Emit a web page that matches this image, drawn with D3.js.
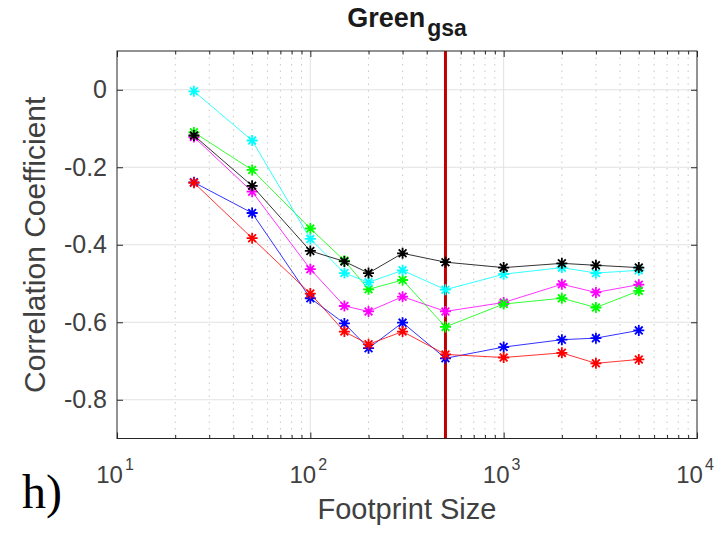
<!DOCTYPE html>
<html>
<head>
<meta charset="utf-8">
<script src="https://cdn.jsdelivr.net/npm/d3@7"></script>
<style>
body { margin: 0; background: #fff; }
svg { display: block; }
text { font-family: "Liberation Sans", Arial, Helvetica, sans-serif; fill: #404040; }
</style>
</head>
<body>
<script>
var width = 723, height = 533;

var footprint = [25, 50, 100, 150, 200, 300, 500, 1000, 2000, 3000, 5000];
var redVals     = [-0.240, -0.383, -0.526, -0.624, -0.657, -0.624, -0.683, -0.691, -0.679, -0.706, -0.696];
var blueVals    = [-0.239, -0.318, -0.538, -0.603, -0.667, -0.601, -0.693, -0.664, -0.645, -0.641, -0.621];
var magentaVals = [-0.122, -0.263, -0.463, -0.558, -0.572, -0.534, -0.572, -0.549, -0.502, -0.523, -0.503];
var greenVals   = [-0.110, -0.207, -0.358, -0.441, -0.515, -0.491, -0.612, -0.553, -0.538, -0.562, -0.519];
var cyanVals    = [-0.004, -0.131, -0.385, -0.473, -0.497, -0.466, -0.516, -0.476, -0.459, -0.473, -0.466];
var blackVals   = [-0.118, -0.248, -0.416, -0.443, -0.473, -0.422, -0.445, -0.459, -0.448, -0.453, -0.459];
var seriesColors = ["#0000ff", "#ff0000", "#ff00ff", "#00ff00", "#00ffff", "#000000"];

var xMajor = [10, 100, 1000, 10000];
var xExp = ["1", "2", "3", "4"];
var yTicks = [0, -0.2, -0.4, -0.6, -0.8];
var yTickLabels = ["0", "-0.2", "-0.4", "-0.6", "-0.8"];
var marker = 500;

var series = [blueVals, redVals, magentaVals, greenVals, cyanVals, blackVals];

var plotL = 117, plotR = 697, plotT = 51, plotB = 438.5;
var x = d3.scaleLog().domain([10, 10000]).range([plotL, plotR]);
var y = d3.scaleLinear().domain([-0.9, 0.1]).range([plotB, plotT]);

var xMinor = [];
[10, 100, 1000].forEach(function(d){ for (var k = 2; k <= 9; k++) xMinor.push(d*k); });

var svg = d3.select("body").append("svg").attr("width", width).attr("height", height);

// grid
var grid = svg.append("g");
grid.selectAll("line.minor").data(xMinor).enter().append("line")
    .attr("x1", function(d){ return x(d); }).attr("x2", function(d){ return x(d); })
    .attr("y1", plotT).attr("y2", plotB)
    .attr("stroke", "#c8c8c8").attr("stroke-width", 1).attr("stroke-dasharray", "1.5,5");
grid.selectAll("line.vmaj").data([100, 1000]).enter().append("line")
    .attr("x1", function(d){ return x(d); }).attr("x2", function(d){ return x(d); })
    .attr("y1", plotT).attr("y2", plotB)
    .attr("stroke", "#e2e2e2").attr("stroke-width", 1);
grid.selectAll("line.hmaj").data(yTicks).enter().append("line")
    .attr("x1", plotL).attr("x2", plotR)
    .attr("y1", function(d){ return y(d); }).attr("y2", function(d){ return y(d); })
    .attr("stroke", "#e2e2e2").attr("stroke-width", 1);

// axes with inward ticks
function styleAxis(g) {
    g.select(".domain").remove();
    g.selectAll(".tick line").attr("stroke", "#262626");
    g.selectAll(".tick text").remove();
}
svg.append("g").attr("transform", "translate(0," + plotB + ")")
    .call(d3.axisBottom(x).tickValues(xMajor).tickSize(-6).tickFormat("")).call(styleAxis);
svg.append("g").attr("transform", "translate(0," + plotB + ")")
    .call(d3.axisBottom(x).tickValues(xMinor).tickSize(-3.5).tickFormat("")).call(styleAxis);
svg.append("g").attr("transform", "translate(0," + plotT + ")")
    .call(d3.axisTop(x).tickValues(xMajor).tickSize(-6).tickFormat("")).call(styleAxis);
svg.append("g").attr("transform", "translate(0," + plotT + ")")
    .call(d3.axisTop(x).tickValues(xMinor).tickSize(-3.5).tickFormat("")).call(styleAxis);
svg.append("g").attr("transform", "translate(" + plotL + ",0)")
    .call(d3.axisLeft(y).tickValues(yTicks).tickSize(-6).tickFormat("")).call(styleAxis);
svg.append("g").attr("transform", "translate(" + plotR + ",0)")
    .call(d3.axisRight(y).tickValues(yTicks).tickSize(-6).tickFormat("")).call(styleAxis);

// vertical marker line
svg.append("line")
    .attr("x1", x(marker)).attr("x2", x(marker))
    .attr("y1", plotT).attr("y2", plotB)
    .attr("stroke", "#bf0000").attr("stroke-width", 3);

// series
var line = d3.line()
    .x(function(d, i){ return x(footprint[i]); })
    .y(function(d){ return y(d); });

var r = 5.5;
series.forEach(function(vals, si) {
    var c = seriesColors[si];
    var g = svg.append("g");
    g.append("path").attr("d", line(vals))
        .attr("fill", "none").attr("stroke", c).attr("stroke-width", 1).attr("stroke-opacity", 0.8);
    var m = g.selectAll("g.pt").data(vals).enter().append("g")
        .attr("transform", function(d, i){ return "translate(" + x(footprint[i]) + "," + y(d) + ")"; });
    m.append("path")
        .attr("d", function(){
            var a = r * 0.707;
            return "M" + (-r) + ",0L" + r + ",0M0," + (-r) + "L0," + r +
                   "M" + (-a) + "," + (-a) + "L" + a + "," + a +
                   "M" + (-a) + "," + a + "L" + a + "," + (-a);
        })
        .attr("stroke", c).attr("stroke-width", 1.8).attr("fill", "none");
});

// box
svg.append("rect").attr("x", plotL).attr("y", plotT)
    .attr("width", plotR - plotL).attr("height", plotB - plotT)
    .attr("fill", "none").attr("stroke", "#262626").attr("stroke-width", 1);

// tick labels
svg.selectAll("text.xt").data(xMajor).enter().append("text")
    .attr("x", function(d){ return x(d) - 2; })
    .attr("y", 483)
    .attr("text-anchor", "middle")
    .style("font-size", "24px")
    .each(function(d, i){
        var t = d3.select(this);
        t.append("tspan").text("10");
        t.append("tspan").attr("dy", -13).attr("dx", 2).style("font-size", "16px").text(xExp[i]);
    });

svg.selectAll("text.yt").data(yTicks).enter().append("text")
    .attr("x", plotL - 10)
    .attr("y", function(d){ return y(d) + 8.5; })
    .attr("text-anchor", "end")
    .style("font-size", "25px")
    .text(function(d, i){ return yTickLabels[i]; });

// axis labels
svg.append("text")
    .attr("x", (plotL + plotR) / 2).attr("y", 519)
    .attr("text-anchor", "middle")
    .style("font-size", "29px")
    .text("Footprint Size");

svg.append("text")
    .attr("transform", "translate(45," + ((plotT + plotB) / 2) + ") rotate(-90)")
    .attr("text-anchor", "middle")
    .style("font-size", "30px")
    .text("Correlation Coefficient");

// title
var title = svg.append("text")
    .attr("x", (plotL + plotR) / 2).attr("y", 27)
    .attr("text-anchor", "middle")
    .style("font-size", "27px").style("font-weight", "bold").style("fill", "#1a1a1a");
title.append("tspan").text("Green");
title.append("tspan").attr("dy", 9).attr("dx", 2).style("font-size", "23px").text("gsa");

// panel letter
svg.append("text")
    .attr("x", 22).attr("y", 508)
    .style("font-family", "'Liberation Serif', 'Times New Roman', serif")
    .style("font-size", "48px").style("fill", "#000")
    .text("h)");
</script>
</body>
</html>
